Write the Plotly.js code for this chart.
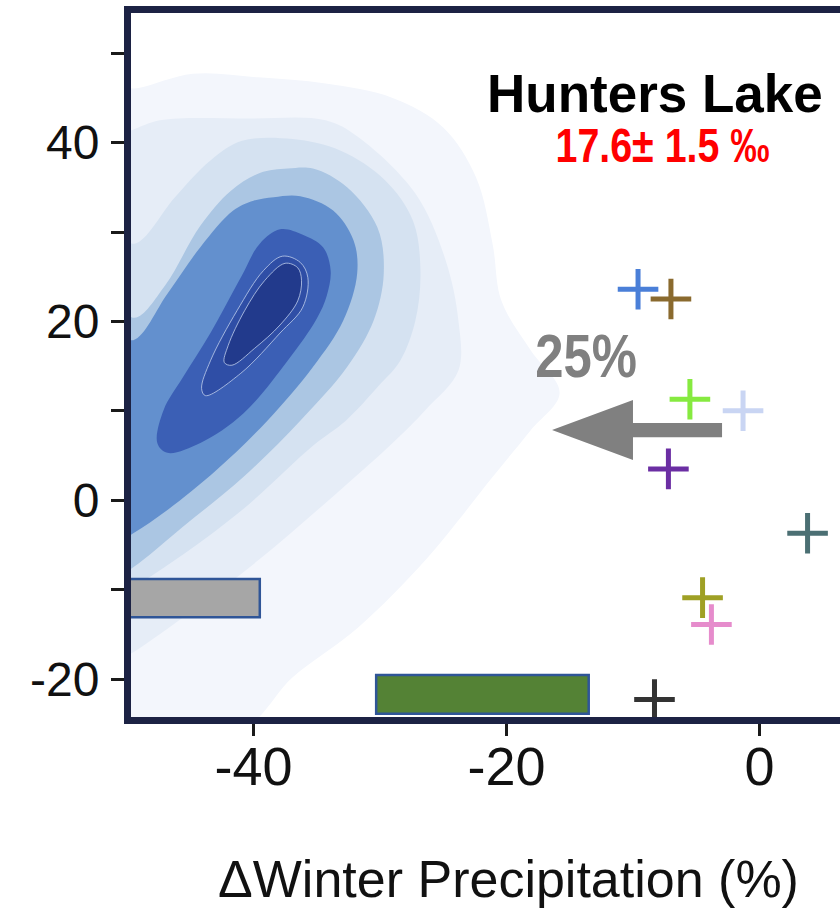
<!DOCTYPE html>
<html>
<head>
<meta charset="utf-8">
<script src="https://cdn.plot.ly/plotly-3.0.1.min.js"></script>
<style>
  html, body { margin: 0; padding: 0; overflow: hidden; background: #ffffff; }
  .condensed { transform-box: fill-box; transform-origin: center; transform: scaleX(0.82); }
</style>
</head>
<body>
<div id="chart"></div>
<script>
// Density bands of the simulated (ΔWinter Precipitation, y) pairs, outermost first.
const band1X = [-49.1, -44.8, -39.6, -34.3, -29.0, -25.0, -22.4, -21.1, -20.4, -18.1, -15.8, -18.1, -21.1, -26.4, -31.7, -36.9, -41.0, -51.3, -51.3];
const band1Y = [46.1, 47.7, 47.3, 46.6, 45.0, 41.7, 36.1, 28.7, 22.3, 16.8, 12.0, 7.8, 2.6, -6.7, -14.2, -19.8, -25.7, -25.7, 45.8];
const band2X = [-47.4, -40.3, -34.3, -31.7, -27.2, -24.8, -23.8, -23.8, -26.4, -29.0, -34.3, -39.6, -44.8, -49.6, -51.3, -51.3, -49.8];
const band2Y = [42.5, 42.7, 42.5, 40.6, 34.3, 26.8, 20.1, 14.5, 10.1, 6.4, -0.3, -6.7, -12.3, -17.1, -18.4, 40.8, 41.3];
const band3X = [-40.9, -36.9, -33.1, -29.6, -27.4, -26.8, -27.2, -28.4, -30.1, -32.7, -35.3, -40.9, -46.2, -49.6, -51.3, -51.3, -49.4, -46.2, -43.4];
const band3Y = [40.2, 40.4, 39.1, 35.8, 31.3, 25.7, 20.1, 15.6, 12.8, 8.9, 6.1, -1.1, -6.7, -9.8, -11.0, 30.2, 28.7, 33.9, 38.0];
const band4X = [-37.3, -35.3, -32.6, -30.2, -29.7, -30.5, -32.6, -36.3, -40.8, -45.6, -49.5, -51.3, -51.3, -49.4, -47.0, -44.2, -41.8, -39.5];
const band4Y = [37.1, 37.1, 35.0, 30.5, 25.4, 20.1, 14.9, 8.9, 2.6, -3.0, -7.5, -8.9, 22.3, 20.4, 24.0, 30.7, 34.6, 36.6];
const band5X = [-38.4, -36.3, -33.7, -32.1, -31.8, -32.9, -35.3, -38.9, -42.9, -46.8, -49.5, -51.3, -51.3, -49.5, -46.8, -44.2, -41.6, -40.0];
const band5Y = [33.9, 34.0, 32.4, 29.1, 25.4, 20.1, 14.9, 8.9, 3.4, -1.1, -3.7, -5.0, 19.0, 17.9, 23.1, 28.3, 32.4, 33.5];
const band6X = [-37.9, -36.1, -34.5, -33.9, -34.2, -35.0, -37.3, -40.8, -44.2, -46.8, -47.6, -47.1, -45.6, -43.4, -41.0, -39.5];
const band6Y = [30.3, 29.7, 28.3, 25.7, 22.9, 20.3, 15.6, 9.7, 6.4, 5.3, 6.4, 10.1, 13.7, 18.7, 24.9, 28.7];
const band7X = [-37.7, -36.3, -35.7, -36.1, -37.9, -41.0, -43.8, -44.1, -43.4, -41.3, -39.2];
const band7Y = [27.3, 26.6, 24.9, 21.6, 18.7, 14.2, 11.7, 12.5, 15.6, 21.2, 25.7];
const band8X = [-37.5, -36.5, -36.2, -36.5, -37.9, -39.9, -41.7, -42.3, -42.0, -40.7, -39.1];
const band8Y = [26.5, 26.0, 24.6, 22.3, 19.6, 17.0, 15.1, 15.4, 17.3, 21.2, 24.6];
const bandColors = ['#f3f6fc', '#e6edf7', '#d5e2f1', '#abc6e3', '#6390ce', '#3b5fb5', '#2f4ea6', '#223a8c'];

// Individual model results (crosses)
const modelX = [-9.6, -7.0, -5.5, -1.3, -7.2, 3.8, -4.5, -3.8, -8.3];
const modelY = [23.6, 22.5, 11.3, 10.0, 3.5, -3.7, -10.9, -13.9, -22.3];
const modelColors = ['#4a7fd8', '#8a6a2e', '#86ea40', '#c9d5f3', '#6b2ea3', '#4b6f73', '#9fa025', '#e68ccc', '#333333'];

// Range boxes
const boxX0 = [-50.0, -30.3];
const boxX1 = [-39.5, -13.5];
const boxY0 = [-13.1, -23.9];
const boxY1 = [-8.8, -19.55];
const boxFill = ['#a6a6a6', '#548235'];

// Shift arrow and its label
const arrowFromX = -2.96;
const arrowToX = -16.4;
const arrowY = 7.85;
const arrowLabel = '25%';

const siteName = 'Hunters Lake';
const siteValue = '17.6± 1.5 ‰';

const xTicks = [-40, -20, 0];
const xTickText = ['-40', '-20', '0'];
const yTicks = [-20, 0, 20, 40];
const yTickText = ['-20', '0', '20', '40'];
const yMinorTicks = [-10, 10, 30, 50];

const bandsX = [band1X, band2X, band3X, band4X, band5X, band6X, band7X, band8X];
const bandsY = [band1Y, band2Y, band3Y, band4Y, band5Y, band6Y, band7Y, band8Y];

const traces = bandsX.map((bx, i) => {
  const by = bandsY[i];
  const outlined = i >= 6;
  return {
    type: 'scatter',
    mode: 'lines',
    x: bx.concat([bx[0]]),
    y: by.concat([by[0]]),
    fill: 'toself',
    fillcolor: bandColors[i],
    line: {
      shape: 'spline',
      smoothing: 1,
      width: outlined ? 1 : 0,
      color: outlined ? 'rgba(190,205,235,0.8)' : bandColors[i]
    },
    hoverinfo: 'skip',
    showlegend: false
  };
});

traces.push({
  type: 'scatter',
  mode: 'markers',
  x: modelX,
  y: modelY,
  marker: {
    symbol: 'cross-thin',
    size: 29,
    line: { width: 5, color: modelColors }
  },
  hoverinfo: 'x+y',
  showlegend: false
});

// Arrow geometry (head length / half widths in axis units)
const headLen = 6.4, headHalf = 3.35, shaftHalf = 0.8;
const hb = arrowToX + headLen;
const arrowPath = 'M' + arrowFromX + ',' + (arrowY + shaftHalf) +
  ' L' + hb + ',' + (arrowY + shaftHalf) +
  ' L' + hb + ',' + (arrowY + headHalf) +
  ' L' + arrowToX + ',' + arrowY +
  ' L' + hb + ',' + (arrowY - headHalf) +
  ' L' + hb + ',' + (arrowY - shaftHalf) +
  ' L' + arrowFromX + ',' + (arrowY - shaftHalf) + ' Z';

const shapes = boxX0.map((x0, i) => ({
  type: 'rect', xref: 'x', yref: 'y', layer: 'above',
  x0: x0, x1: boxX1[i], y0: boxY0[i], y1: boxY1[i],
  fillcolor: boxFill[i],
  line: { color: '#2f5597', width: 2.5 }
}));
shapes.push({
  type: 'path', xref: 'x', yref: 'y', layer: 'above',
  path: arrowPath, fillcolor: '#808080', line: { width: 0 }
});

const regular = 'Liberation Sans, Arial, Helvetica, sans-serif';

const layout = {
  width: 890,
  height: 909,
  margin: { l: 131, r: 4, t: 13, b: 192 },
  paper_bgcolor: '#ffffff',
  plot_bgcolor: '#ffffff',
  showlegend: false,
  xaxis: {
    range: [-49.68, 10.0],
    showgrid: false, zeroline: false,
    showline: true, linewidth: 7, linecolor: '#1c2244', mirror: true,
    ticks: 'outside', ticklen: 12, tickwidth: 3, tickcolor: '#1a1a1a',
    tickvals: xTicks, ticktext: xTickText,
    ticklabelstandoff: -16,
    tickfont: { family: regular, size: 54, color: '#111111' },
    title: { text: 'ΔWinter Precipitation (%)', font: { family: regular, size: 52, color: '#111111' }, standoff: 68 }
  },
  yaxis: {
    range: [-24.25, 54.5],
    showgrid: false, zeroline: false,
    showline: true, linewidth: 7, linecolor: '#1c2244', mirror: false,
    ticks: 'outside', ticklen: 13, tickwidth: 3, tickcolor: '#1a1a1a',
    tickvals: yTicks, ticktext: yTickText,
    ticklabelstandoff: 2,
    minor: { tickvals: yMinorTicks, ticks: 'outside', ticklen: 13, tickwidth: 3, tickcolor: '#1a1a1a', showgrid: false },
    tickfont: { family: regular, size: 48, color: '#111111' }
  },
  shapes: shapes,
  annotations: [
    {
      xref: 'x', yref: 'y', x: -8.26, y: 45.5, xanchor: 'center', yanchor: 'middle',
      text: '<b>' + siteName + '</b>', showarrow: false,
      font: { family: regular, size: 53, color: '#000000' }
    },
    {
      xref: 'x', yref: 'y', x: -7.67, y: 39.7, xanchor: 'center', yanchor: 'middle',
      text: '<b>' + siteValue + '</b>', showarrow: false,
      font: { family: regular, size: 48, color: '#ff0000' }
    },
    {
      xref: 'x', yref: 'y', x: -13.7, y: 16.2, xanchor: 'center', yanchor: 'middle',
      text: '<b>' + arrowLabel + '</b>', showarrow: false,
      font: { family: regular, size: 62, color: '#808080' }
    }
  ]
};

Plotly.newPlot('chart', traces, layout, { displayModeBar: false, staticPlot: true }).then(gd => {
  // the value and shift labels are set in a condensed face
  const labels = gd.querySelectorAll('.annotation-text');
  [1, 2].forEach(i => { if (labels[i]) labels[i].classList.add('condensed'); });
});
</script>
</body>
</html>
